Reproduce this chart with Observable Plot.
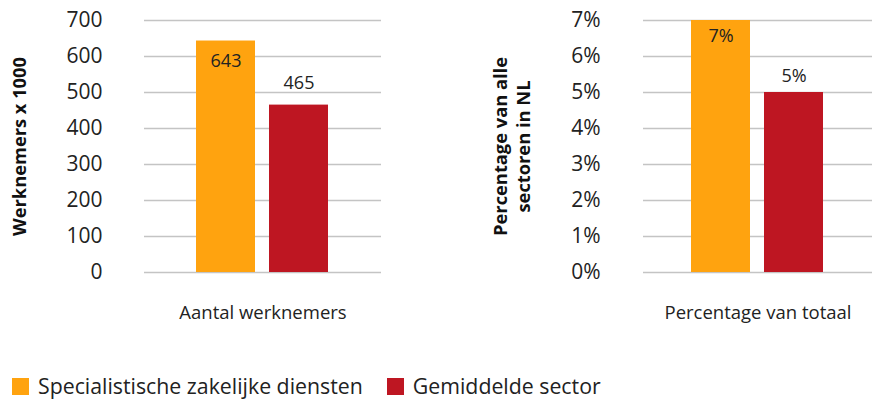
<!DOCTYPE html>
<html><head><meta charset="utf-8">
<script src="https://cdn.jsdelivr.net/npm/d3@7"></script>
<script src="https://cdn.jsdelivr.net/npm/@observablehq/plot@0.6"></script>
<style>
body{margin:0;background:#fff;font-family:"Open Sans",sans-serif;}
#wrap{position:relative;width:872px;height:400px;overflow:hidden;background:#fff;}
#left{position:absolute;left:0;top:0;}
#right{position:absolute;left:436px;top:0;}
#legend{position:absolute;left:12px;top:372px;display:flex;align-items:center;font-size:21.3px;color:#222;line-height:28px;}
#legend .item{display:flex;align-items:center;margin-right:24px;}
#legend .sw{width:17px;height:17px;margin-right:9px;}
</style>
</head><body>
<div id="wrap"><div id="left"></div><div id="right"></div><div id="legend"></div></div>
<script>
const series = ["Specialistische zakelijke diensten", "Gemiddelde sector"];
const colors = ["#FFA30F", "#BE1622"];
const employeesCategory = "Aantal werknemers";
const employeesTitle = "Werknemers x 1000";
const employees = [643, 465];
const employeeTicks = [0, 100, 200, 300, 400, 500, 600, 700];
const shareCategory = "Percentage van totaal";
const shareTitle = "Percentage van alle\nsectoren in NL";
const share = [0.07, 0.05];
const shareTicks = [0, 0.01, 0.02, 0.03, 0.04, 0.05, 0.06, 0.07];

function chart(o) {
  const data = series.map((s, i) => ({s, v: o.values[i]}));
  const max = o.ticks[o.ticks.length - 1];
  const inside = data.filter(d => d.v / max > 0.85);
  const outside = data.filter(d => d.v / max <= 0.85);
  return Plot.plot({
    width: o.width, height: 345,
    marginTop: 20, marginBottom: 73, marginLeft: o.marginLeft, marginRight: o.marginRight,
    style: {fontFamily: "Open Sans", color: "#222", overflow: "visible", background: "transparent"},
    x: {domain: series, paddingInner: 0.19, paddingOuter: o.paddingOuter, axis: null},
    y: {domain: [0, max], axis: null},
    color: {domain: series, range: colors},
    marks: [
      Plot.ruleY(o.ticks, {stroke: "#c4c4c4", strokeWidth: 1.5}),
      Plot.barY(data, {x: "s", y: "v", fill: "s"}),
      Plot.axisY(o.ticks, {tickSize: 0, tickPadding: o.tickPadding, tickFormat: o.fmt, fontSize: 21, label: null, fill: "#222"}),
      Plot.text(inside, {x: "s", y: "v", text: d => o.fmt(d.v), dy: o.insideDy, fontSize: 18, fill: "#222"}),
      Plot.text(outside, {x: "s", y: "v", text: d => o.fmt(d.v), dy: o.outsideDy, fontSize: 18, fill: "#222"}),
      Plot.text([o.category], {frameAnchor: "bottom", dy: 46, fontSize: 18.5, fill: "#222"}),
      Plot.text([o.title], {frameAnchor: "left", textAnchor: "middle", rotate: -90, dx: o.titleDx, fontSize: 18.3, fontWeight: "bold", fill: "#111", lineHeight: 1.26})
    ]
  });
}

document.getElementById("left").append(chart({
  values: employees, ticks: employeeTicks, fmt: d3.format("d"),
  category: employeesCategory, title: employeesTitle,
  width: 436, marginLeft: 144, marginRight: 55, paddingOuter: 0.70,
  tickPadding: 42, insideDy: 20, outsideDy: -22, titleDx: -126
}));
document.getElementById("right").append(chart({
  values: share, ticks: shareTicks, fmt: d3.format(".0%"),
  category: shareCategory, title: shareTitle,
  width: 436, marginLeft: 207, marginRight: 0, paddingOuter: 0.66,
  tickPadding: 43, insideDy: 16, outsideDy: -16, titleDx: -132
}));

const legend = d3.select("#legend");
series.forEach((s, i) => {
  const it = legend.append("div").attr("class", "item");
  it.append("div").attr("class", "sw").style("background", colors[i]);
  it.append("span").text(s);
});
</script>
</body></html>
